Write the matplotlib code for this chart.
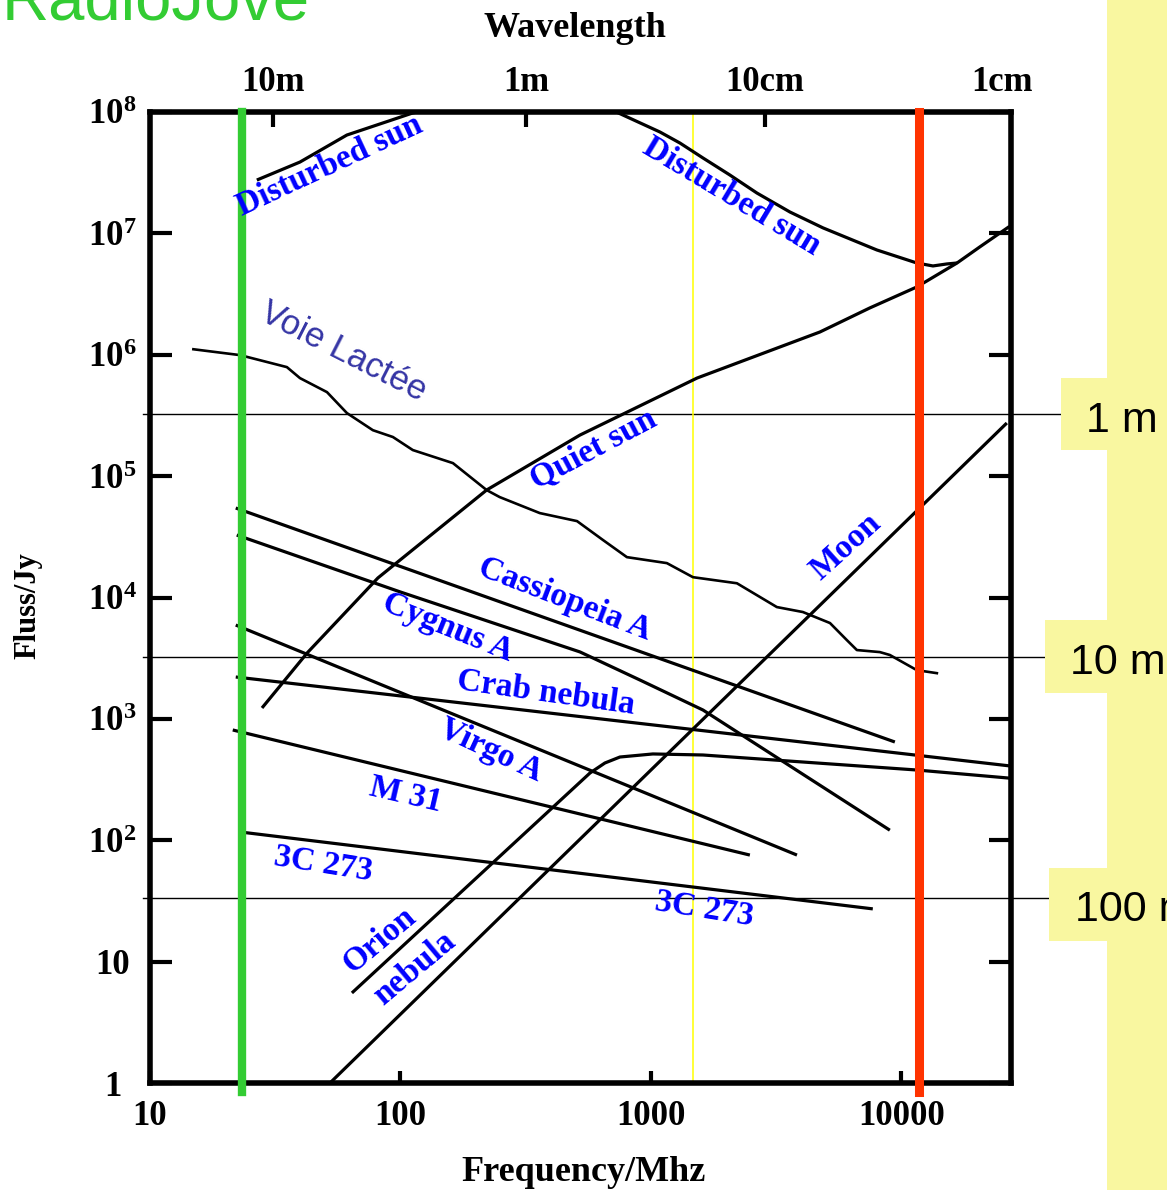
import matplotlib
matplotlib.use('Agg')
import matplotlib.pyplot as plt
from matplotlib.patches import Rectangle
from matplotlib.ticker import NullLocator
import matplotlib.transforms as mtransforms

W, H, DPI = 1167, 1190, 100

# ---------------- data (frequency in MHz, flux in Jy) ----------------
dist_sun_lo_f = [26.7, 39.7, 61.1, 112, 125]
dist_sun_lo_s = [2.75e7, 3.87e7, 6.46e7, 9.82e7, 1.03e8]

dist_sun_hi_f = [698, 1087, 1306, 1614, 2065, 2650, 3590, 4865, 7980, 11530, 13370, 15200, 16680]
dist_sun_hi_s = [1.04e8, 6.84e7, 5.55e7, 4.18e7, 3.03e7, 2.15e7, 1.5e7, 1.11e7, 7.30e6, 5.70e6, 5.39e6, 5.6e6, 5.70e6]

quiet_sun_f = [28.0, 42.4, 81.3, 221, 521, 1529, 4730, 7480, 11530, 16680, 20560, 27000]
quiet_sun_s = [1230, 3490, 1.45e4, 7.69e4, 2.18e5, 6.43e5, 1.54e6, 2.43e6, 3.62e6, 5.70e6, 7.73e6, 1.14e7]

milky_way_f = [14.9, 22.9, 35.2, 39.7, 50.9, 61.1, 77.6, 93.3, 112, 162, 221, 249, 360, 507, 643,
               802, 1158, 1472, 2205, 3183, 4044, 5188, 6056, 6643, 8206, 8995, 11530, 13860]
milky_way_s = [1.11e6, 9.93e5, 7.91e5, 6.42e5, 4.92e5, 3.31e5, 2.39e5, 2.10e5, 1.64e5, 1.28e5, 7.67e4,
               6.72e4, 4.96e4, 4.26e4, 2.98e4, 2.15e4, 1.92e4, 1.47e4, 1.31e4, 8.34e3, 7.59e3, 6.16e3,
               4.46e3, 3.69e3, 3.55e3, 3.36e3, 2.52e3, 2.38e3]

cas_a_f = [22.0, 9420]
cas_a_s = [5.46e4, 645]

cyg_a_f = [22.2, 100, 521, 904, 1614, 8995]
cyg_a_s = [3.27e4, 1.11e4, 3.56e3, 2090, 1183, 121]

crab_f = [22.0, 27000]
crab_s = [2213, 410]

virgo_f = [22.0, 3830]
virgo_s = [5930, 75.5]

m31_f = [21.4, 2484]
m31_s = [810, 75.5]

c3c273_f = [22.9, 7690]
c3c273_s = [117, 27.2]

orion_f = [64.0, 437, 571, 655, 752, 1018, 1614, 11530, 27000]
orion_s = [5.52, 215, 358, 433, 485, 514, 504, 379, 325]

moon_f = [52.3, 26370]
moon_s = [1.0, 2.74e5]

green_f = 23.2     # RadioJove band
yellow_f = 1470
red_f = 11800

hline_levels = [3.25e5, 3.24e3, 33.4]
hline_labels = ['1 m', '10 m', '100 m']

x_ticks = [10, 100, 1000, 10000]
x_ticklabels = ['10', '100', '1000', '10000']
y_ticks = [1, 10, 1e2, 1e3, 1e4, 1e5, 1e6, 1e7, 1e8]
y_ticklabels = ['1', '10', '$\\mathregular{10^{2}}$', '$\\mathregular{10^{3}}$', '$\\mathregular{10^{4}}$',
                '$\\mathregular{10^{5}}$', '$\\mathregular{10^{6}}$', '$\\mathregular{10^{7}}$',
                '$\\mathregular{10^{8}}$']
wave_ticks = [31.0, 317, 2850, 25200]
wave_labels = ['10m', '1m', '10cm', '1cm']

# labels: (text, freq, flux, rotation)
curve_labels = [
    ('Disturbed sun', 52.3, 3.59e7, 25),
    ('Disturbed sun', 2103, 2.0e7, -31),
    ('Quiet sun', 592, 1.64e5, 28),
    ('Cassiopeia A', 454, 9720, -21),
    ('Cygnus A', 155, 5710, -22),
    ('Crab nebula', 381, 1634, -8),
    ('Virgo A', 230, 554, -25),
    ('M 31', 105, 236, -13),
    ('3C 273', 49.1, 63.7, -9),
    ('3C 273', 1630, 27.2, -9),
    ('Orion', 82.8, 15.1, 40),
    ('nebula', 114, 8.86, 40),
    ('Moon', 5998, 2.61e4, 42),
]
milky_label = ('Voie Lactée', 59.4, 1.05e6, -27)

# ---------------- style ----------------
GREEN = '#33cc33'
RED = '#ff3300'
YEL_LINE = '#ffff00'
PALE = '#f9f7a0'
BLUE = '#0000ff'
SERIF = 'Liberation Serif'
SANS = 'Liberation Sans'

plt.rcParams['font.family'] = SERIF
plt.rcParams['font.weight'] = 'bold'
plt.rcParams['mathtext.fontset'] = 'custom'
plt.rcParams['mathtext.rm'] = 'Liberation Serif:bold'
plt.rcParams['mathtext.bf'] = 'Liberation Serif:bold'
plt.rcParams['mathtext.it'] = 'Liberation Serif:bold'
plt.rcParams['mathtext.default'] = 'regular'

fig = plt.figure(figsize=(W / DPI, H / DPI), dpi=DPI)
fig.patch.set_facecolor('white')

# yellow side strip and label boxes
fig.add_artist(Rectangle((1107 / W, 0), 1 - 1107 / W, 1, transform=fig.transFigure,
                         facecolor=PALE, edgecolor='none', zorder=0))
boxes = [(1061, 378, 450), (1045, 620, 693), (1049, 868, 941)]
text_pos = [(1086, 432), (1070, 674), (1075, 921)]
for (bx, by0, by1), (tx, ty), lab in zip(boxes, text_pos, hline_labels):
    fig.add_artist(Rectangle((bx / W, 1 - by1 / H), 1 - bx / W, (by1 - by0) / H,
                             transform=fig.transFigure, facecolor=PALE, edgecolor='none', zorder=3))
    fig.text(tx / W, 1 - ty / H, lab, fontsize=31, family=SANS, weight='normal',
             va='baseline', ha='left', color='black', zorder=4)

ax = fig.add_axes([150 / W, 1 - 1083 / H, (1011 - 150) / W, (1083 - 112) / H])
ax.set_xscale('log')
ax.set_yscale('log')
ax.set_xlim(10, 27400)
ax.set_ylim(1, 1e8)

lw = 2.3
for fx, sy in [(dist_sun_lo_f, dist_sun_lo_s), (dist_sun_hi_f, dist_sun_hi_s),
               (quiet_sun_f, quiet_sun_s), (cas_a_f, cas_a_s), (cyg_a_f, cyg_a_s),
               (crab_f, crab_s), (virgo_f, virgo_s), (m31_f, m31_s), (c3c273_f, c3c273_s),
               (orion_f, orion_s), (moon_f, moon_s)]:
    ax.plot(fx, sy, color='black', lw=lw, solid_capstyle='butt', solid_joinstyle='round', zorder=2)
ax.plot(milky_way_f, milky_way_s, color='black', lw=1.9, solid_joinstyle='round', zorder=2)

# horizontal reference lines extending out to the labels
blend = mtransforms.blended_transform_factory(ax.transAxes, ax.transData)
for lvl in hline_levels:
    ax.plot([-0.008, 1.12], [lvl, lvl], transform=blend, color='black', lw=1.0,
            clip_on=False, zorder=1.5)

# vertical marker lines
ax.axvline(yellow_f, color=YEL_LINE, lw=1.1, zorder=1.6)
ax.axvline(green_f, ymin=-0.009, ymax=1.0, color=GREEN, lw=6, clip_on=False, zorder=3)
ax.axvline(red_f, ymin=-0.009, ymax=1.0, color=RED, lw=6.5, clip_on=False, zorder=3)

# curve labels
for txt, fx, sy, rot in curve_labels:
    ax.text(fx, sy, txt, rotation=rot, rotation_mode='anchor', ha='center', va='center',
            color=BLUE, fontsize=24, family=SERIF, weight='bold', zorder=4)
txt, fx, sy, rot = milky_label
ax.text(fx, sy, txt, rotation=rot, rotation_mode='anchor', ha='center', va='center',
        color='#3535a5', fontsize=25, family=SANS, weight='normal', zorder=4)

# axes styling
for sp in ax.spines.values():
    sp.set_linewidth(4)
    sp.set_zorder(2.5)
ax.xaxis.set_minor_locator(NullLocator())
ax.yaxis.set_minor_locator(NullLocator())
ax.set_xticks(x_ticks)
ax.set_xticklabels(x_ticklabels, fontsize=25, family=SERIF, weight='bold')
ax.set_yticks(y_ticks)
ax.set_yticklabels(y_ticklabels, fontsize=25, family=SERIF, weight='bold')
ax.tick_params(axis='y', which='major', direction='in', length=16, width=3,
               left=True, right=True, labelright=False, pad=27)
for lab in ax.get_yticklabels():
    lab.set_horizontalalignment('center')
ax.tick_params(axis='x', which='major', direction='in', length=9, width=3,
               bottom=True, top=False, pad=12)

ax2 = ax.twiny()
ax2.set_xscale('log')
ax2.set_xlim(ax.get_xlim())
ax2.xaxis.set_minor_locator(NullLocator())
ax2.set_xticks(wave_ticks)
ax2.set_xticklabels(wave_labels, fontsize=25, family=SERIF, weight='bold')
ax2.tick_params(axis='x', direction='in', length=11, width=3, pad=9)
ax2.xaxis.get_major_ticks()[-1].tick2line.set_visible(False)
for sp in ax2.spines.values():
    sp.set_visible(False)

fig.text(575 / W, 1 - 37 / H, 'Wavelength', ha='center', va='baseline', fontsize=26,
         family=SERIF, weight='bold')
fig.text(584 / W, 1 - 1181 / H, 'Frequency/Mhz', ha='center', va='baseline', fontsize=26,
         family=SERIF, weight='bold')
fig.text(28 / W, 1 - 606 / H, 'Fluss/Jy', ha='center', va='center', rotation=90,
         fontsize=22, family=SERIF, weight='bold')
fig.text(2 / W, 1 - 20 / H, 'RadioJove', ha='left', va='baseline', fontsize=47,
         family=SANS, weight='normal', color=GREEN)

fig.savefig('out.png', dpi=DPI)
